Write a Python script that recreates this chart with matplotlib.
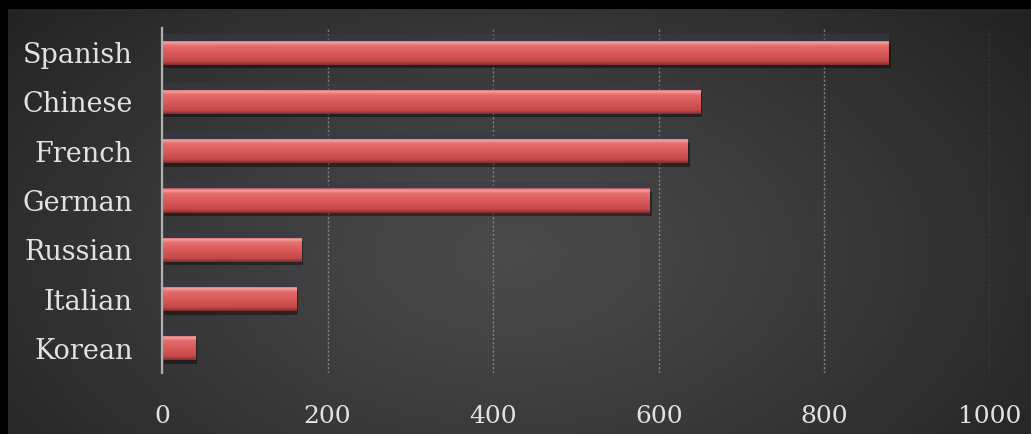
import matplotlib
matplotlib.use("Agg")
import matplotlib.pyplot as plt
import matplotlib.patheffects as pe
import numpy as np
from matplotlib.colors import LinearSegmentedColormap

# data (top to bottom as drawn)
LANGUAGES = ["Spanish", "Chinese", "French", "German", "Russian", "Italian", "Korean"]
VALUES = [878, 650, 635, 589, 168, 162, 40]
X_TICKS = [0, 200, 400, 600, 800, 1000]

W, H, DPI = 1031, 434, 100
TEXT = "#e2e2e2"
GRID = "#858585"
BAR_H = 0.49

fig = plt.figure(figsize=(W / DPI, H / DPI), dpi=DPI, facecolor="black")

# radial grey background panel (black strip left and top)
bg = fig.add_axes([8 / W, 0, 1 - 8 / W, 1 - 9 / H])
bg.set_axis_off()
yy, xx = np.mgrid[0:425, 0:1023]
r = np.sqrt(((xx - 500) / 640.0) ** 2 + ((yy - 245) / 380.0) ** 2)
r = np.clip(r, 0, 1)
shade = 0.29 - 0.15 * r ** 1.2
bg.imshow(np.dstack([shade, shade, shade]), aspect="auto", interpolation="bilinear")

ax = fig.add_axes([162 / W, 1 - 373 / H, (990 - 162) / W, (373 - 28) / H])
ax.set_facecolor("none")

n = len(LANGUAGES)
ypos = np.arange(n)[::-1]

bar_cmap = LinearSegmentedColormap.from_list(
    "bar",
    [(0.0, "#b84c4c"), (0.08, "#f2a4a4"), (0.22, "#e66c6c"),
     (0.55, "#d85858"), (0.85, "#c44a4a"), (1.0, "#842c2c")],
)
grad = bar_cmap(np.linspace(0, 1, 64))[:, None, :]

# faint dark band above each bar
ax.barh(ypos + BAR_H / 2 + 0.07, VALUES, height=0.14, color="#3a3a4a", alpha=0.5,
        zorder=2, linewidth=0)

bars = ax.barh(ypos, VALUES, height=BAR_H, color="#d85858", zorder=3, linewidth=0)
for b in bars:
    b.set_path_effects([pe.SimplePatchShadow(offset=(1.5, -2.5), shadow_rgbFace="black",
                                             alpha=0.4), pe.Normal()])
    x0, y0 = b.get_x(), b.get_y()
    im = ax.imshow(grad, extent=(x0, x0 + b.get_width(), y0, y0 + b.get_height()),
                   origin="upper", aspect="auto", zorder=4, interpolation="bilinear")
    im.set_clip_path(b)

ax.set_xlim(0, 1000)
ax.set_ylim(-0.5, n - 0.5)
ax.set_xticks(X_TICKS)
ax.set_xticklabels([str(t) for t in X_TICKS])
ax.set_yticks(ypos)
ax.set_yticklabels(LANGUAGES)
ax.tick_params(axis="both", length=0, colors=TEXT)
ax.tick_params(axis="x", pad=23, labelsize=18)
ax.tick_params(axis="y", pad=21, labelsize=19.5)
for lbl in ax.get_xticklabels() + ax.get_yticklabels():
    lbl.set_fontfamily("DejaVu Serif")
    lbl.set_color(TEXT)

ax.grid(axis="x", color=GRID, linestyle=(0, (1.5, 1.5)), linewidth=1.0, zorder=1)
ax.grid(axis="y", visible=False)
for side in ("top", "right", "bottom"):
    ax.spines[side].set_visible(False)
ax.spines["left"].set_color("#b0b0b0")
ax.spines["left"].set_linewidth(1.6)
ax.spines["left"].set_zorder(5)

fig.savefig("out.png", dpi=DPI, facecolor="black")
